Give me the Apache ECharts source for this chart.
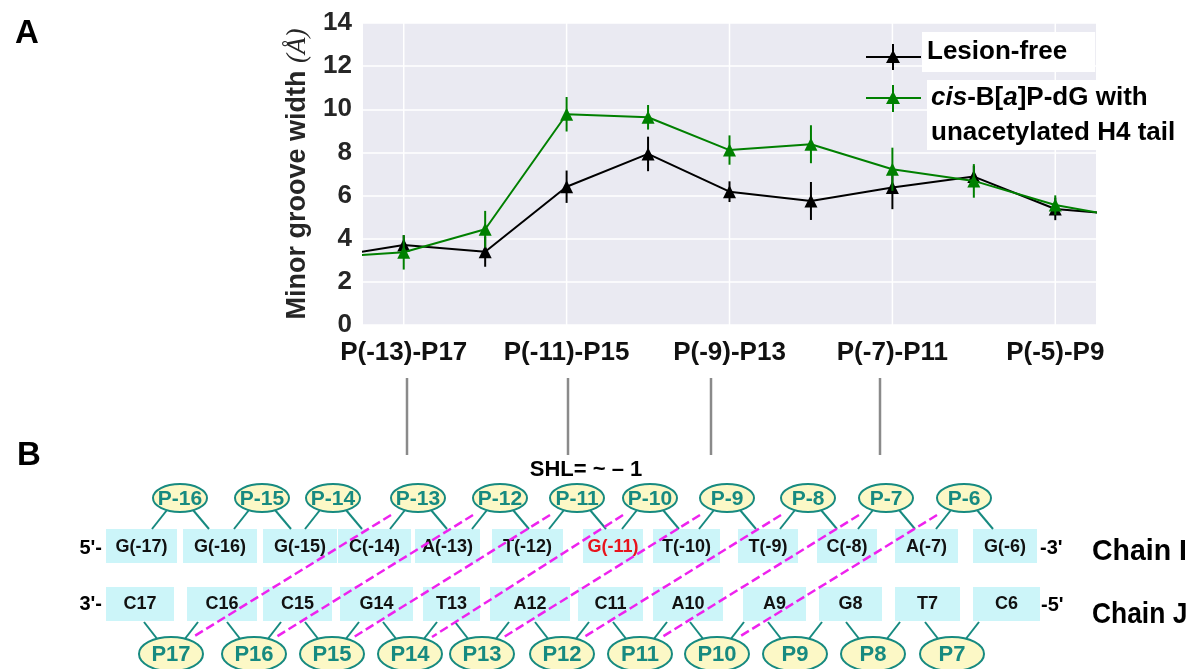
<!DOCTYPE html>
<html><head><meta charset="utf-8">
<script src="https://cdn.jsdelivr.net/npm/echarts@6/dist/echarts.min.js"></script>
<style>html,body{margin:0;padding:0;background:#fff}#c{width:1194px;height:669px}</style>
</head><body><div id="c"></div>
<script>
// ---------- Data (panel A) ----------
const positions = [-1, 0, 1, 2, 3, 4, 5, 6, 7, 8, 9];
const xTickValues = [0, 2, 4, 6, 8];
const xTickLabels = ['P(-13)-P17', 'P(-11)-P15', 'P(-9)-P13', 'P(-7)-P11', 'P(-5)-P9'];
const lesionFree    = [3.09, 3.71, 3.40, 6.41, 7.93, 6.18, 5.75, 6.37, 6.88, 5.38, 5.06];
const lesionFreeErr = [null, 0.45, 0.70, 0.75, 0.80, 0.48, 0.88, 1.00, 0.50, 0.52, null];
const cisBaP        = [3.13, 3.37, 4.44, 9.77, 9.63, 8.11, 8.38, 7.22, 6.68, 5.56, 4.88];
const cisBaPErr     = [null, 0.80, 0.85, 0.80, 0.57, 0.68, 0.88, 1.00, 0.78, 0.45, null];
const yTickLabels = ['0', '2', '4', '6', '8', '10', '12', '14'];

// ---------- Data (panel B) ----------
const topStrand = ['G(-17)', 'G(-16)', 'G(-15)', 'C(-14)', 'A(-13)', 'T(-12)', 'G(-11)', 'T(-10)', 'T(-9)', 'C(-8)', 'A(-7)', 'G(-6)'];
const bottomStrand = ['C17', 'C16', 'C15', 'G14', 'T13', 'A12', 'C11', 'A10', 'A9', 'G8', 'T7', 'C6'];
const topPhosphates = ['P-16', 'P-15', 'P-14', 'P-13', 'P-12', 'P-11', 'P-10', 'P-9', 'P-8', 'P-7', 'P-6'];
const bottomPhosphates = ['P17', 'P16', 'P15', 'P14', 'P13', 'P12', 'P11', 'P10', 'P9', 'P8', 'P7'];
const crossLinks = [['P-13', 'P17'], ['P-12', 'P16'], ['P-11', 'P15'], ['P-10', 'P14'], ['P-9', 'P13'], ['P-8', 'P12'], ['P-7', 'P11'], ['P-6', 'P10']];
const lesionBase = 'G(-11)';
const shlText = 'SHL= ~ \u2013 1';

// ---------- Layout (panel B) ----------
const topBoxL = [106, 183, 263, 338, 415, 492, 583, 653, 738, 817, 895, 973];
const topBoxR = [177, 257, 337, 411, 480, 563, 643, 720, 798, 877, 958, 1037];
const botBoxL = [106, 187, 263, 340, 423, 490, 578, 653, 743, 819, 895, 973];
const botBoxR = [174, 257, 332, 413, 480, 570, 643, 723, 806, 882, 960, 1040];
const topEllX = [180, 262, 333, 418, 500, 577, 650, 727, 808, 886, 964];
const botEllX = [171, 254, 332, 410, 482, 562, 640, 717, 795, 873, 952];
const connectorX = [407, 568, 711, 880];

const FONT = '"Liberation Sans", Arial, Helvetica, sans-serif';
const TEAL = '#178a80';
const ELL_FILL = '#fcf8c6';
const BOX_FILL = '#ccf5f9';
const MAGENTA = '#ee22ee';
const GREEN = '#008000';

const G = [];
G.push({type: 'text', x: 27, y: 34, style: {text: 'A', font: 'bold 33px ' + FONT, fill: '#000', align: 'center', verticalAlign: 'middle'}});
G.push({type: 'text', x: 29, y: 456, style: {text: 'B', font: 'bold 33px ' + FONT, fill: '#000', align: 'center', verticalAlign: 'middle'}});

// legend
function legendIcon(y, color, y1, y2) {
  G.push({type: 'line', z: 100, shape: {x1: 866, y1: y, x2: 921, y2: y}, style: {stroke: color, lineWidth: 2}});
  G.push({type: 'line', z: 100, shape: {x1: 893, y1: y1, x2: 893, y2: y2}, style: {stroke: color, lineWidth: 2}});
  G.push({type: 'polygon', z: 100, shape: {points: [[893, y - 7], [886, y + 6], [900, y + 6]]}, style: {fill: color}});
}
legendIcon(57, '#000', 44, 70);
legendIcon(98, GREEN, 85, 112);
G.push({type: 'text', z: 100, x: 922, y: 32, style: {text: 'Lesion-free', font: 'bold 26px ' + FONT, fill: '#000', backgroundColor: '#fff', lineHeight: 40, padding: [0, 28, 0, 5], align: 'left', verticalAlign: 'top'}});
G.push({type: 'text', z: 100, x: 927, y: 80, style: {
  text: '{i|cis}-B[{i|a}]P-dG with\nunacetylated H4 tail', font: 'bold 26px ' + FONT, fill: '#000', lineHeight: 35,
  backgroundColor: '#fff', padding: [0, 4, 0, 4], align: 'left', verticalAlign: 'top',
  rich: {i: {fontStyle: 'italic', fontWeight: 'bold', fontSize: 26, fontFamily: FONT, lineHeight: 35, fill: '#000'}}
}});

// panel B
connectorX.forEach(x => G.push({type: 'line', shape: {x1: x, y1: 378, x2: x, y2: 455}, style: {stroke: '#8a8a8a', lineWidth: 2.5}}));
G.push({type: 'text', x: 586, y: 470, style: {text: shlText, font: 'bold 22px ' + FONT, fill: '#000', align: 'center', verticalAlign: 'middle'}});

topStrand.forEach((t, i) => {
  G.push({type: 'rect', shape: {x: topBoxL[i], y: 529, width: topBoxR[i] - topBoxL[i], height: 34}, style: {fill: BOX_FILL}});
  G.push({type: 'text', x: (topBoxL[i] + topBoxR[i]) / 2, y: 547, style: {text: t, font: 'bold 18px ' + FONT, fill: t === lesionBase ? '#e8141c' : '#111', align: 'center', verticalAlign: 'middle'}});
});
bottomStrand.forEach((t, i) => {
  G.push({type: 'rect', shape: {x: botBoxL[i], y: 587, width: botBoxR[i] - botBoxL[i], height: 34}, style: {fill: BOX_FILL}});
  G.push({type: 'text', x: (botBoxL[i] + botBoxR[i]) / 2, y: 604, style: {text: t, font: 'bold 18px ' + FONT, fill: '#111', align: 'center', verticalAlign: 'middle'}});
});
[["5'-", 102, 548, 'right'], ["3'-", 102, 604, 'right'], ["-3'", 1040, 548, 'left'], ["-5'", 1041, 605, 'left']].forEach(a =>
  G.push({type: 'text', x: a[1], y: a[2], style: {text: a[0], font: 'bold 20px ' + FONT, fill: '#000', align: a[3], verticalAlign: 'middle'}}));
G.push({type: 'text', x: 1092, y: 552, scaleX: 0.95, style: {text: 'Chain I', font: 'bold 30px ' + FONT, fill: '#000', align: 'left', verticalAlign: 'middle'}});
G.push({type: 'text', x: 1092, y: 615, scaleX: 0.88, style: {text: 'Chain J', font: 'bold 30px ' + FONT, fill: '#000', align: 'left', verticalAlign: 'middle'}});

topPhosphates.forEach((p, i) => {
  const cx = topEllX[i];
  G.push({type: 'line', shape: {x1: cx - 13, y1: 510, x2: cx - 28, y2: 529}, style: {stroke: TEAL, lineWidth: 2}});
  G.push({type: 'line', shape: {x1: cx + 13, y1: 510, x2: cx + 29, y2: 529}, style: {stroke: TEAL, lineWidth: 2}});
  G.push({type: 'ellipse', shape: {cx: cx, cy: 498, rx: 27, ry: 14}, style: {fill: ELL_FILL, stroke: TEAL, lineWidth: 2}});
  G.push({type: 'text', x: cx, y: 499, style: {text: p, font: 'bold 21px ' + FONT, fill: TEAL, align: 'center', verticalAlign: 'middle'}});
});
bottomPhosphates.forEach((p, i) => {
  const cx = botEllX[i];
  G.push({type: 'line', shape: {x1: cx - 27, y1: 622, x2: cx - 13, y2: 640}, style: {stroke: TEAL, lineWidth: 2}});
  G.push({type: 'line', shape: {x1: cx + 27, y1: 622, x2: cx + 13, y2: 640}, style: {stroke: TEAL, lineWidth: 2}});
  G.push({type: 'ellipse', shape: {cx: cx, cy: 654, rx: 32, ry: 17}, style: {fill: ELL_FILL, stroke: TEAL, lineWidth: 2}});
  G.push({type: 'text', x: cx, y: 655, style: {text: p, font: 'bold 22px ' + FONT, fill: TEAL, align: 'center', verticalAlign: 'middle'}});
});
crossLinks.forEach(l => {
  const a = topEllX[topPhosphates.indexOf(l[0])], b = botEllX[bottomPhosphates.indexOf(l[1])];
  G.push({type: 'line', z: 50, shape: {x1: a - 27, y1: 515, x2: b + 22, y2: 637}, style: {stroke: MAGENTA, lineWidth: 2.5, lineDash: [9, 4]}});
});

// ---------- Chart ----------
function errRender(color) {
  return function (params, api) {
    const x = api.value(0), y = api.value(1), e = api.value(2);
    const p1 = api.coord([x, y + e]), p2 = api.coord([x, y - e]);
    return {type: 'line', shape: {x1: p1[0], y1: p1[1], x2: p2[0], y2: p2[1]}, style: {stroke: color, lineWidth: 2}};
  };
}
function pairs(vals) { return positions.map((p, i) => [p, vals[i]]); }
function errData(vals, errs) { return positions.map((p, i) => [p, vals[i], errs[i]]).filter(d => d[2] != null); }

const chart = echarts.init(document.getElementById('c'), null, {renderer: 'canvas'});
chart.setOption({
  animation: false,
  backgroundColor: '#fff',
  grid: {left: 363, right: 98, top: 23, bottom: 344, show: true, backgroundColor: '#eaeaf2', borderWidth: 0},
  xAxis: {
    type: 'value', min: -0.5, max: 8.5,
    axisLine: {show: false}, axisTick: {show: false, customValues: xTickValues}, splitLine: {show: false},
    axisLabel: {customValues: xTickValues, formatter: v => xTickLabels[xTickValues.indexOf(v)] || '', margin: 15,
      fontFamily: FONT, fontWeight: 'bold', fontSize: 26, color: '#111'}
  },
  yAxis: {
    type: 'value', min: 0, max: 14, interval: 2,
    axisLine: {show: false}, axisTick: {show: false},
    splitLine: {lineStyle: {color: '#fff', width: 1.5}},
    axisLabel: {formatter: (v) => yTickLabels[v / 2], margin: 11, fontFamily: FONT, fontWeight: 'bold', fontSize: 26, color: '#262626'},
    name: '{t|Minor groove width }{u|(\u00c5)}', nameLocation: 'middle', nameRotate: 90, nameGap: 52,
    nameTextStyle: {rich: {
      t: {fontFamily: FONT, fontWeight: 'bold', fontSize: 27, color: '#262626'},
      u: {fontFamily: '"Liberation Serif", "DejaVu Serif", serif', fontStyle: 'italic', fontWeight: 'normal', fontSize: 27, color: '#262626'}
    }}
  },
  graphic: G,
  series: [
    {type: 'custom', z: 1, silent: true, data: xTickValues.map(v => [v]),
      renderItem: (params, api) => {
        const v = api.value(0), a = api.coord([v, 0]), b = api.coord([v, 14]);
        return {type: 'line', shape: {x1: a[0], y1: a[1], x2: b[0], y2: b[1]}, style: {stroke: '#fff', lineWidth: 1.5}};
      }},
    {name: 'Lesion-free', type: 'line', z: 3, data: pairs(lesionFree), symbol: 'triangle', symbolSize: 13,
      lineStyle: {color: '#000', width: 2}, itemStyle: {color: '#000'}, clip: true},
    {type: 'custom', z: 3, silent: true, data: errData(lesionFree, lesionFreeErr), renderItem: errRender('#000')},
    {name: 'cis-B[a]P-dG with unacetylated H4 tail', type: 'line', z: 4, data: pairs(cisBaP), symbol: 'triangle', symbolSize: 13,
      lineStyle: {color: GREEN, width: 2}, itemStyle: {color: GREEN}, clip: true},
    {type: 'custom', z: 4, silent: true, data: errData(cisBaP, cisBaPErr), renderItem: errRender(GREEN)}
  ]
});
</script>
</body></html>
